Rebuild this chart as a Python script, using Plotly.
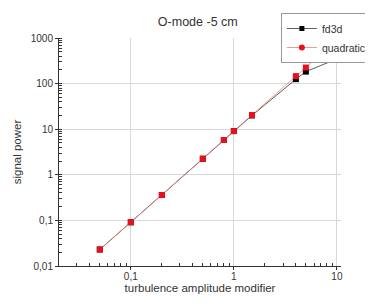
import plotly.graph_objects as go

x_quad = [0.05, 0.1, 0.2, 0.5, 0.8, 1, 1.5, 4, 5, 10]
y_quad = [0.023, 0.091, 0.36, 2.25, 5.8, 9.1, 20.5, 146, 225, 920]
x_fd3d = [0.05, 0.1, 0.2, 0.5, 0.8, 1, 1.5, 4, 5, 10]
y_fd3d = [0.023, 0.091, 0.36, 2.25, 5.8, 9.1, 20.0, 125, 183, 348]

y_ticks = [0.01, 0.1, 1, 10, 100, 1000]
y_labels = ["0,01", "0,1", "1", "10", "100", "1000"]
x_ticks = [0.1, 1, 10]
x_labels = ["0,1", "1", "10"]

fig = go.Figure()
fig.add_trace(go.Scatter(x=x_fd3d, y=y_fd3d, mode="lines+markers", name="fd3d",
                         line=dict(color="#333333", width=0.8),
                         marker=dict(symbol="square", size=6, color="black"),
                         showlegend=False))
fig.add_trace(go.Scatter(x=x_quad, y=y_quad, mode="lines+markers", name="quadratic",
                         line=dict(color="#e88080", width=0.8),
                         marker=dict(symbol="square", size=6, color="#e8101a"),
                         showlegend=False))
# legend entries
fig.add_trace(go.Scatter(x=[None], y=[None], mode="lines+markers", name="fd3d",
                         line=dict(color="#333333", width=0.8),
                         marker=dict(symbol="square", size=5, color="black")))
fig.add_trace(go.Scatter(x=[None], y=[None], mode="lines+markers", name="quadratic",
                         line=dict(color="#e88080", width=0.8),
                         marker=dict(symbol="circle", size=6, color="#e8101a")))

fig.update_layout(
    width=365, height=295,
    margin=dict(l=51, r=32, t=30, b=37, autoexpand=False),
    paper_bgcolor="white", plot_bgcolor="white",
    font=dict(family="Liberation Sans, Arial, sans-serif", size=10, color="#333333"),
    title=dict(text="O-mode -5 cm", x=0.52, xanchor="center", y=0.953, yanchor="middle",
               font=dict(size=12.5, color="#333333")),
    legend=dict(xref="container", yref="container", x=0.997, y=0.983,
                xanchor="right", yanchor="top",
                bgcolor="white", bordercolor="#999999", borderwidth=1,
                font=dict(size=10.5, color="#333333"),
                tracegroupgap=0, itemwidth=30),
    showlegend=True,
)
fig.update_xaxes(type="log", range=[-1.697, 1.04],
                 tickvals=x_ticks, ticktext=x_labels,
                 showline=True, linecolor="#333333", linewidth=1,
                 showgrid=True, gridcolor="#d8d8d8", gridwidth=1,
                 ticks="outside", ticklen=3, tickcolor="#333333",
                 ticklabelstandoff=-2,
                 minor=dict(ticks="inside", ticklen=3, tickcolor="#333333", showgrid=False,
                            tickvals=[0.03, 0.04, 0.05, 0.06, 0.07, 0.08, 0.09,
                                      0.2, 0.3, 0.4, 0.5, 0.6, 0.7, 0.8, 0.9,
                                      2, 3, 4, 5, 6, 7, 8, 9]),
                 zeroline=False,
                 title=dict(text="turbulence amplitude modifier", font=dict(size=11.5), standoff=2))
fig.update_yaxes(type="log", range=[-2, 3],
                 tickvals=y_ticks, ticktext=y_labels,
                 showline=True, linecolor="#333333", linewidth=1,
                 showgrid=True, gridcolor="#d8d8d8", gridwidth=1,
                 ticks="outside", ticklen=3, tickcolor="#333333",
                 minor=dict(ticks="inside", ticklen=3, tickcolor="#333333", showgrid=False, dtick="D1"),
                 zeroline=False,
                 title=dict(text="signal power", font=dict(size=11.5), standoff=6))

fig.write_html("out.html")
